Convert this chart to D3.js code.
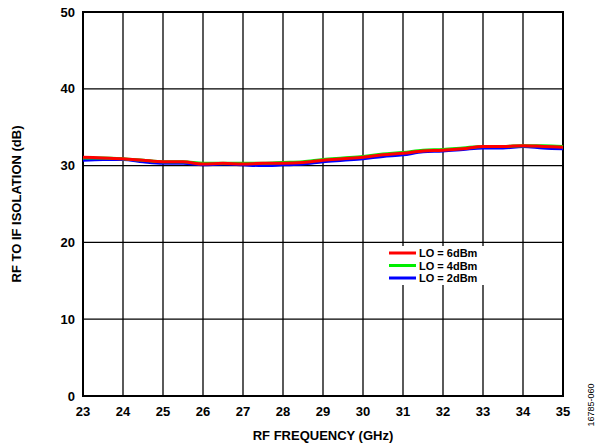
<!DOCTYPE html>
<html>
<head>
<meta charset="utf-8">
<script src="https://cdn.jsdelivr.net/npm/d3@7"></script>
<style>
  body { margin: 0; background: #fff; }
  text { font-family: "Liberation Sans", Arial, sans-serif; font-weight: bold; fill: #000; }
</style>
</head>
<body>
<script>
var width = 598,
    height = 447;

var margin = {left: 83, top: 12, right: 35, bottom: 51};

// RF frequency, GHz
var freq = [23, 23.5, 24, 24.5, 25, 25.5, 26, 26.5, 27, 27.5, 28, 28.5, 29,
            29.5, 30, 30.5, 31, 31.5, 32, 32.5, 33, 33.5, 34, 34.5, 35];

// RF to IF isolation, dB
var lo6 = [31.1, 31.0, 30.9, 30.7, 30.5, 30.5, 30.2, 30.3, 30.2, 30.3, 30.3, 30.4, 30.7,
           30.9, 31.1, 31.4, 31.6, 31.9, 32.0, 32.2, 32.5, 32.5, 32.6, 32.5, 32.4];
var lo4 = [31.0, 31.0, 30.9, 30.7, 30.5, 30.5, 30.3, 30.3, 30.3, 30.3, 30.4, 30.5, 30.8,
           31.0, 31.2, 31.5, 31.7, 32.0, 32.1, 32.3, 32.5, 32.5, 32.6, 32.6, 32.5];
var lo2 = [30.7, 30.8, 30.8, 30.5, 30.3, 30.3, 30.1, 30.2, 30.1, 30.0, 30.1, 30.2, 30.5,
           30.7, 30.9, 31.2, 31.4, 31.8, 31.9, 32.1, 32.3, 32.3, 32.5, 32.3, 32.2];

var seriesNames = ["LO = 6dBm", "LO = 4dBm", "LO = 2dBm"];
var seriesColors = ["#ff0000", "#00ee00", "#0000ff"];

var xTicks = d3.range(23, 36, 1);
var yTicks = [0, 10, 20, 30, 40, 50];

var series = [
  {name: seriesNames[0], color: seriesColors[0], values: lo6},
  {name: seriesNames[1], color: seriesColors[1], values: lo4},
  {name: seriesNames[2], color: seriesColors[2], values: lo2}
];

var x = d3.scaleLinear().domain([23, 35]).range([margin.left, width - margin.right]);
var y = d3.scaleLinear().domain([0, 50]).range([height - margin.bottom, margin.top]);

var svg = d3.select("body").append("svg")
    .attr("width", width)
    .attr("height", height);

// grid
svg.append("g").selectAll("line")
    .data(xTicks)
    .enter().append("line")
    .attr("x1", function(d) { return x(d); })
    .attr("x2", function(d) { return x(d); })
    .attr("y1", y(0))
    .attr("y2", y(50))
    .style("stroke", "#000")
    .style("stroke-width", 1.3);

svg.append("g").selectAll("line")
    .data(yTicks)
    .enter().append("line")
    .attr("x1", x(23))
    .attr("x2", x(35))
    .attr("y1", function(d) { return y(d); })
    .attr("y2", function(d) { return y(d); })
    .style("stroke", "#000")
    .style("stroke-width", 1.3);

// frame
svg.append("rect")
    .attr("x", x(23))
    .attr("y", y(50))
    .attr("width", x(35) - x(23))
    .attr("height", y(0) - y(50))
    .style("fill", "none")
    .style("stroke", "#000")
    .style("stroke-width", 2);

// tick labels
svg.append("g").selectAll("text")
    .data(xTicks)
    .enter().append("text")
    .attr("x", function(d) { return x(d); })
    .attr("y", y(0) + 20)
    .attr("text-anchor", "middle")
    .style("font-size", "13px")
    .text(function(d) { return d; });

svg.append("g").selectAll("text")
    .data(yTicks)
    .enter().append("text")
    .attr("x", x(23) - 8)
    .attr("y", function(d) { return y(d) + 4.5; })
    .attr("text-anchor", "end")
    .style("font-size", "13px")
    .text(function(d) { return d; });

// curves
var line = d3.line()
    .x(function(d, i) { return x(freq[i]); })
    .y(function(d) { return y(d); })
    .curve(d3.curveMonotoneX);

svg.append("g").selectAll("path")
    .data(series.slice().reverse())
    .enter().append("path")
    .attr("d", function(d) { return line(d.values); })
    .style("fill", "none")
    .style("stroke", function(d) { return d.color; })
    .style("stroke-width", 3);

// legend, on a white patch over the grid
svg.append("rect")
    .attr("x", 386)
    .attr("y", 246)
    .attr("width", 110)
    .attr("height", 39)
    .style("fill", "#fff");

var legend = svg.append("g").selectAll("g")
    .data(series)
    .enter().append("g")
    .attr("transform", function(d, i) { return "translate(389," + (253 + i * 12.5) + ")"; });

legend.append("line")
    .attr("x1", 0).attr("x2", 27)
    .style("stroke", function(d) { return d.color; })
    .style("stroke-width", 3);

legend.append("text")
    .attr("x", 30)
    .attr("y", 4)
    .style("font-size", "11px")
    .text(function(d) { return d.name; });

// axis titles
svg.append("text")
    .attr("x", (x(23) + x(35)) / 2)
    .attr("y", 440)
    .attr("text-anchor", "middle")
    .style("font-size", "13px")
    .text("RF FREQUENCY (GHz)");

svg.append("text")
    .attr("transform", "translate(21," + ((y(0) + y(50)) / 2) + ") rotate(-90)")
    .attr("text-anchor", "middle")
    .style("font-size", "13px")
    .text("RF TO IF ISOLATION (dB)");

svg.append("text")
    .attr("transform", "translate(594,405) rotate(-90)")
    .attr("text-anchor", "middle")
    .style("font-size", "9px")
    .style("font-weight", "normal")
    .text("16785-060");
</script>
</body>
</html>
